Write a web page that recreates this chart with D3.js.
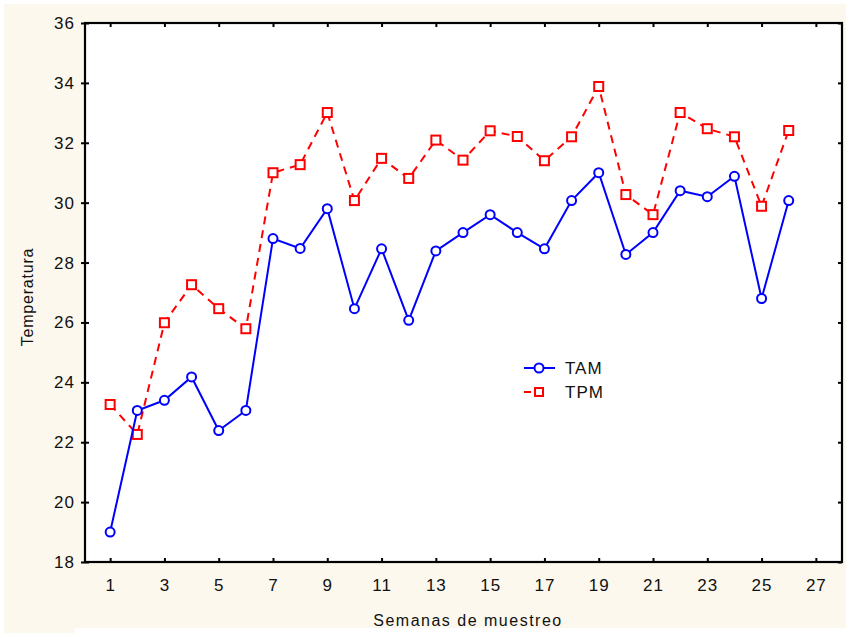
<!DOCTYPE html>
<html><head><meta charset="utf-8">
<script src="https://cdn.jsdelivr.net/npm/d3@7"></script>
<style>body{margin:0;background:#fff}svg{display:block}text{font-family:Arial,"Liberation Sans",sans-serif;fill:#111}</style>
</head><body>
<svg id="c" width="846" height="633"></svg>
<script>
const weeks = d3.range(1, 27);
const TAM = [19.0,23.06,23.4,24.18,22.39,23.06,28.8,28.47,29.8,26.46,28.46,26.07,28.39,29.0,29.6,29.0,28.46,30.07,31.0,28.27,29.0,30.4,30.2,30.88,26.8,30.07];
const TPM = [23.26,22.26,25.99,27.26,26.46,25.79,31.0,31.27,33.01,30.07,31.48,30.81,32.09,31.42,32.4,32.21,31.4,32.2,33.88,30.27,29.6,33.01,32.47,32.2,29.88,32.41];
const xTicks = d3.range(1, 28, 2);
const yTicks = d3.range(18, 37, 2);
const seriesNames = ["TAM", "TPM"];

const svg = d3.select("#c");
const L = 85, R = 842, T = 23, B = 562;
const x = d3.scaleLinear().domain([0, 28]).range([L - 2, R + 1]);
const y = d3.scaleLinear().domain([18, 36]).range([B, T]);

// backgrounds
svg.append("rect").attr("x",4).attr("y",4).attr("width",842).attr("height",624).attr("fill","#fcf8ee");
svg.append("rect").attr("x",4).attr("y",628).attr("width",71).attr("height",5).attr("fill","#fcf8ee");
svg.append("rect").attr("x",L).attr("y",T).attr("width",R-L).attr("height",B-T).attr("fill","#fff");

// axes
const gB = svg.append("g").attr("transform",`translate(0,${B})`)
  .call(d3.axisBottom(x).tickValues(xTicks).tickSizeInner(-4).tickSizeOuter(0).tickPadding(17));
const gT = svg.append("g").attr("transform",`translate(0,${T})`)
  .call(d3.axisTop(x).tickValues(xTicks).tickSizeInner(-4).tickSizeOuter(0).tickFormat(""));
const gL = svg.append("g").attr("transform",`translate(${L},0)`)
  .call(d3.axisLeft(y).tickValues(yTicks).tickSizeInner(4).tickSizeOuter(0).tickPadding(6));
const gR = svg.append("g").attr("transform",`translate(${R},0)`)
  .call(d3.axisRight(y).tickValues(yTicks).tickSizeInner(-4).tickSizeOuter(0).tickFormat(""));
[gB,gT,gL,gR].forEach(g=>{
  g.select(".domain").remove();
  g.selectAll(".tick line").attr("stroke","#000").attr("stroke-width",2);
  g.selectAll("text").style("font-size","17px").style("letter-spacing","1px").attr("fill","#111");
});
gL.selectAll(".tick line").attr("x1",4);
gL.selectAll("text").attr("x",-10);
svg.append("rect").attr("x",L).attr("y",T).attr("width",R-L).attr("height",B-T)
  .attr("fill","none").attr("stroke","#000").attr("stroke-width",2.2);

// axis titles
svg.append("text").attr("x",468).attr("y",626).attr("text-anchor","middle")
  .style("font-size","16px").style("letter-spacing","1.5px").text("Semanas de muestreo");
svg.append("text").attr("transform","translate(33,297) rotate(-90)").attr("text-anchor","middle")
  .style("font-size","16px").style("letter-spacing","0.8px").text("Temperatura");

const line = d3.line().x((d,i)=>x(weeks[i])).y(d=>y(d));
// TPM
svg.append("path").datum(TPM).attr("d",line).attr("fill","none").attr("stroke","#ff0000")
  .attr("stroke-width",2).attr("stroke-dasharray","8,6");
svg.selectAll(".sq").data(TPM).join("rect").attr("class","sq")
  .attr("x",(d,i)=>x(weeks[i])-4.5).attr("y",d=>y(d)-4.5).attr("width",9).attr("height",9)
  .attr("fill","#fff").attr("stroke","#ff0000").attr("stroke-width",2);
// TAM
svg.append("path").datum(TAM).attr("d",line).attr("fill","none").attr("stroke","#0000ff").attr("stroke-width",2);
svg.selectAll(".ci").data(TAM).join("circle").attr("class","ci")
  .attr("cx",(d,i)=>x(weeks[i])).attr("cy",d=>y(d)).attr("r",4.5)
  .attr("fill","#fff").attr("stroke","#0000ff").attr("stroke-width",2);

// legend
const lg = svg.append("g");
lg.append("line").attr("x1",524).attr("x2",555).attr("y1",368).attr("y2",368).attr("stroke","#0000ff").attr("stroke-width",2);
lg.append("circle").attr("cx",539).attr("cy",368).attr("r",4.5).attr("fill","#fff").attr("stroke","#0000ff").attr("stroke-width",2);
lg.append("text").attr("x",565).attr("y",374).style("font-size","17px").style("letter-spacing","1px").text(seriesNames[0]);
lg.append("line").attr("x1",524).attr("x2",547).attr("y1",392).attr("y2",392).attr("stroke","#ff0000").attr("stroke-width",2).attr("stroke-dasharray","7,5");
lg.append("rect").attr("x",535).attr("y",388).attr("width",8).attr("height",8).attr("fill","#fff").attr("stroke","#ff0000").attr("stroke-width",2);
lg.append("text").attr("x",565).attr("y",398).style("font-size","17px").style("letter-spacing","1px").text(seriesNames[1]);
</script>
</body></html>
